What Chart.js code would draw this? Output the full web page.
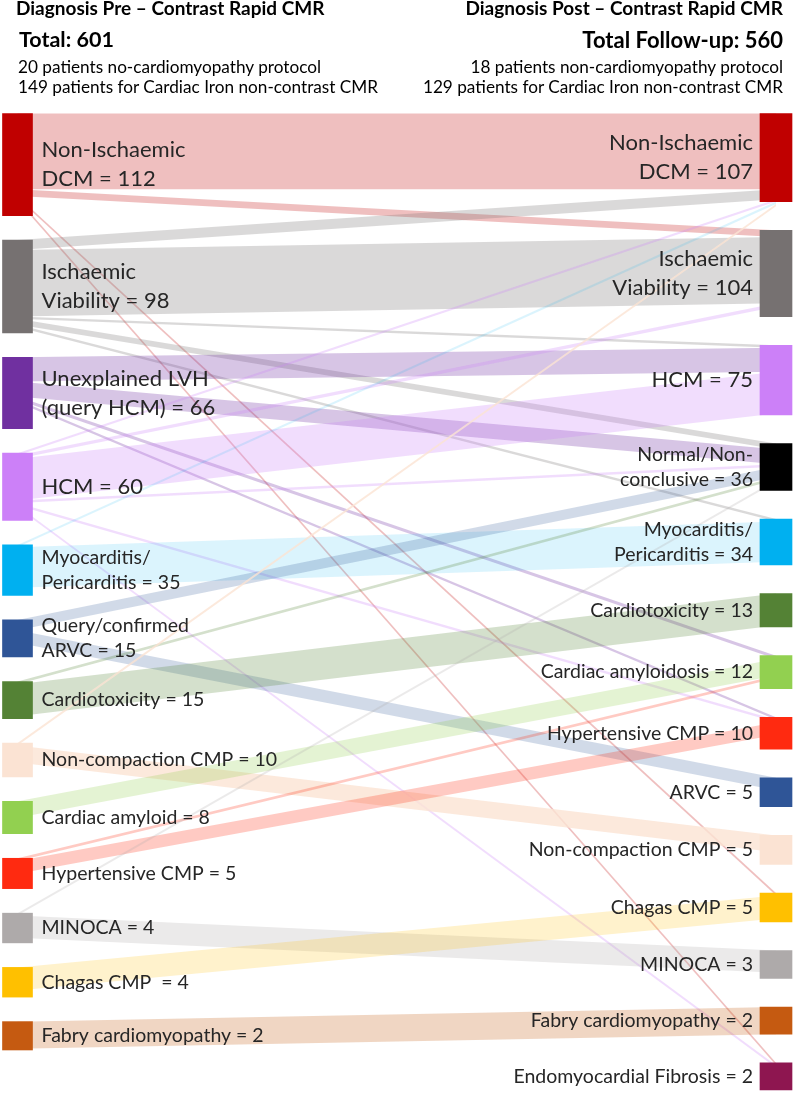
<!DOCTYPE html>
<html><head><meta charset="utf-8">
<script src="https://cdn.jsdelivr.net/npm/chart.js@4.4.1/dist/chart.umd.min.js"></script>
<style>
html,body{margin:0;padding:0;background:#fff;}
#wrap{position:relative;width:795px;height:1093px;overflow:hidden;font-family:Lato,"Open Sans",sans-serif;color:#000;}
canvas{position:absolute;left:0;top:0;}
.h{position:absolute;white-space:nowrap;line-height:1.2;}
</style></head><body>
<div id="wrap">
<canvas id="c" width="795" height="1093"></canvas>
<div class="h" style="left:16px;top:-3px;font-weight:700;font-size:19px">Diagnosis Pre – Contrast Rapid CMR</div>
<div class="h" style="left:19px;top:26.5px;font-weight:700;font-size:21.5px">Total: 601</div>
<div class="h" style="left:18px;top:57px;font-size:17.2px">20 patients no-cardiomyopathy protocol</div>
<div class="h" style="left:18px;top:77px;font-size:17.2px">149 patients for Cardiac Iron non-contrast CMR</div>
<div class="h" style="right:12px;top:-3px;font-weight:700;font-size:19px">Diagnosis Post – Contrast Rapid CMR</div>
<div class="h" style="right:12px;top:26.5px;font-weight:700;font-size:22px">Total Follow-up: 560</div>
<div class="h" style="right:12px;top:57px;font-size:17.2px">18 patients non-cardiomyopathy protocol</div>
<div class="h" style="right:12px;top:77px;font-size:17.2px">129 patients for Cardiac Iron non-contrast CMR</div>
</div>
<script>
// ---------- DATA ----------
const leftKeys   = ["DCM","Isch","LVH","HCM","Myo","ARVC","Ctox","NC","Amy","HTN","MINOCA","Chagas","Fabry"];
const leftCounts = [112, 98, 66, 60, 35, 15, 15, 10, 8, 5, 4, 4, 2];
const leftLabels = [["Non-Ischaemic","DCM"],["Ischaemic","Viability"],["Unexplained LVH","(query HCM)"],["HCM"],
  ["Myocarditis/","Pericarditis"],["Query/confirmed","ARVC"],["Cardiotoxicity"],["Non-compaction CMP"],
  ["Cardiac amyloid"],["Hypertensive CMP"],["MINOCA"],["Chagas CMP "],["Fabry cardiomyopathy"]];

const rightKeys   = ["DCM","Isch","HCM","Normal","Myo","Ctox","Amy","HTN","ARVC","NC","Chagas","MINOCA","Fabry","EMF"];
const rightCounts = [107, 104, 75, 36, 34, 13, 12, 10, 5, 5, 5, 3, 2, 2];
const rightLabels = [["Non-Ischaemic","DCM"],["Ischaemic","Viability"],["HCM"],["Normal/Non-","conclusive"],
  ["Myocarditis/","Pericarditis"],["Cardiotoxicity"],["Cardiac amyloidosis"],["Hypertensive CMP"],["ARVC"],
  ["Non-compaction CMP"],["Chagas CMP"],["MINOCA"],["Fabry cardiomyopathy"],["Endomyocardial Fibrosis"]];

const flowFrom  = ["DCM","DCM","DCM","DCM","Isch","Isch","Isch","Isch","Isch","LVH","LVH","LVH","LVH",
  "HCM","HCM","HCM","HCM","HCM","HCM","Myo","Myo","ARVC","ARVC","Ctox","Ctox","NC","NC","Amy","HTN","HTN",
  "MINOCA","MINOCA","Chagas","Fabry"];
const flowTo    = ["DCM","Isch","Chagas","EMF","DCM","Isch","HCM","Normal","Myo","HCM","Normal","Amy","HTN",
  "DCM","Isch","HCM","Normal","HTN","EMF","DCM","Myo","Normal","ARVC","Normal","Ctox","DCM","NC","Amy","Amy","HTN",
  "Normal","MINOCA","Chagas","Fabry"];
const flowValue = [92, 8, 1, 1, 12, 80, 2, 6, 2, 26, 14, 3, 2,
  1, 4, 45, 2, 2, 1, 2, 30, 8, 5, 2, 13, 2, 5, 6, 1, 4,
  1, 3, 4, 2];

// ---------- STYLE / LAYOUT ----------
const nodeColor = {DCM:"#C00000",Isch:"#767171",LVH:"#7030A0",HCM:"#CC80F8",Myo:"#00B0F0",ARVC:"#2F5597",
  Ctox:"#548235",NC:"#FBE3D3",Amy:"#92D050",HTN:"#FF2A10",MINOCA:"#AEAAAA",Chagas:"#FFC000",Fabry:"#C55A11",
  Normal:"#000000",EMF:"#8E1650"};
const flowAlpha = {DCM:0.25,Isch:0.27,LVH:0.28,HCM:0.27,Myo:0.14,ARVC:0.22,Ctox:0.25,NC:0.8,Amy:0.25,HTN:0.25,
  MINOCA:0.25,Chagas:0.2,Fabry:0.25};
const layoutCfg = { left:{a:27,b:0.67,span:936}, right:{a:26,b:0.58,span:976}, yMax:976, minFlow:2.4 };

function layoutColumn(counts, p){
  const sizes = counts.map(c => p.a + p.b*c);
  const gap = (p.span - sizes.reduce((s,v)=>s+v,0)) / (counts.length-1);
  let pos = 0;
  return sizes.map((s,i) => { const n = {top:pos, bottom:pos+s, size:s, scale:s/counts[i]}; pos += s+gap; return n; });
}
const L = layoutColumn(leftCounts, layoutCfg.left);
const R = layoutColumn(rightCounts, layoutCfg.right);

// flow geometry in axis units
const flows = flowValue.map((v,i) => {
  const s = leftKeys.indexOf(flowFrom[i]), t = rightKeys.indexOf(flowTo[i]);
  return {s, t, v, w: Math.max(layoutCfg.minFlow, v*Math.min(L[s].scale, R[t].scale)), key: flowFrom[i]};
});
const outOff = L.map(n=>n.top), inOff = R.map(n=>n.top);
[...flows].sort((a,b)=>a.s-b.s || a.t-b.t).forEach(f=>{ f.y0 = outOff[f.s]; outOff[f.s] += f.w; });
[...flows].sort((a,b)=>a.t-b.t || a.s-b.s).forEach(f=>{ f.y1 = inOff[f.t]; inOff[f.t] += f.w; });

function rgba(hex, a){
  const n = parseInt(hex.slice(1),16);
  return `rgba(${(n>>16)&255},${(n>>8)&255},${n&255},${a})`;
}

const flowPlugin = {
  id:'flows',
  beforeDatasetsDraw(chart){
    const {ctx, scales:{x,y}} = chart;
    const x0 = x.getPixelForValue(0), x1 = x.getPixelForValue(1);
    ctx.save();
    flows.forEach(f=>{
      ctx.beginPath();
      ctx.moveTo(x0, y.getPixelForValue(f.y0));
      ctx.lineTo(x1, y.getPixelForValue(f.y1));
      ctx.lineTo(x1, y.getPixelForValue(f.y1+f.w));
      ctx.lineTo(x0, y.getPixelForValue(f.y0+f.w));
      ctx.closePath();
      ctx.fillStyle = rgba(nodeColor[f.key], flowAlpha[f.key]);
      ctx.fill();
    });
    ctx.restore();
  },
  afterDatasetsDraw(chart){
    const {ctx, scales:{x,y}} = chart;
    const x0 = x.getPixelForValue(0), x1 = x.getPixelForValue(1);
    ctx.save();
    ctx.fillStyle = "#262626";
    ctx.textBaseline = "middle";
    const draw = (nodes, counts, labels, side) => {
      nodes.forEach((n,i)=>{
        const big = counts[i] >= 60;
        const fs = big ? 22 : 19.5, lh = big ? 29 : 25;
        ctx.font = `${fs}px Lato, "Open Sans", sans-serif`;
        const lines = labels[i].slice();
        lines[lines.length-1] += " = " + counts[i];
        const cy = (y.getPixelForValue(n.top)+y.getPixelForValue(n.bottom))/2;
        lines.forEach((t,k)=>{
          const ty = cy + (k-(lines.length-1)/2)*lh;
          if(side==='L'){ ctx.textAlign='left'; ctx.fillText(t, x0+24, ty); }
          else { ctx.textAlign='right'; ctx.fillText(t, x1-23, ty); }
        });
      });
    };
    draw(L, leftCounts, leftLabels, 'L');
    draw(R, rightCounts, rightLabels, 'R');
    ctx.restore();
  }
};

new Chart(document.getElementById('c'), {
  type:'bar',
  data:{
    datasets:[
      {label:'Pre', data: L.map(n=>({x:0, y:[n.top, n.bottom]})), backgroundColor: leftKeys.map(k=>nodeColor[k]),
       barThickness:30, grouped:false, clip:false, borderWidth:0},
      {label:'Post', data: R.map(n=>({x:1, y:[n.top, n.bottom]})), backgroundColor: rightKeys.map(k=>nodeColor[k]),
       barThickness:32, grouped:false, clip:false, borderWidth:0}
    ]
  },
  options:{
    responsive:false, animation:false, devicePixelRatio:1,
    layout:{padding:{left:17.5, right:19, top:113.5, bottom:3}},
    scales:{
      x:{type:'linear', min:0, max:1, offset:false, display:false},
      y:{type:'linear', min:0, max:layoutCfg.yMax, reverse:true, display:false}
    },
    plugins:{legend:{display:false}, tooltip:{enabled:false}}
  },
  plugins:[flowPlugin]
});
</script>
</body></html>
